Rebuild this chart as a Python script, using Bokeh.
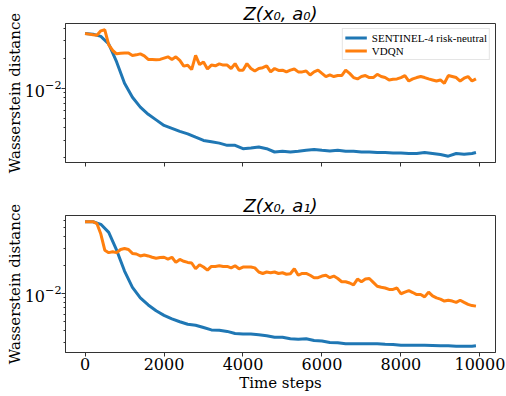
import math
from bokeh.plotting import figure
from bokeh.layouts import column
from bokeh.models import Range1d, FixedTicker, LogTickFormatter
from bokeh.embed import file_html
from bokeh.resources import INLINE

# ---------------- data ----------------
steps_fine = list(range(0, 10000, 100))
steps_coarse = list(range(0, 10000, 200)) + [9900]

sentinel_a0 = [0.0356, 0.0351, 0.0333, 0.0279, 0.0184, 0.0112, 0.00809, 0.00644, 0.00545, 0.00479,
               0.00421, 0.00393, 0.00367, 0.00346, 0.0032, 0.00297, 0.00288, 0.00279, 0.00265, 0.00265,
               0.00245, 0.00249, 0.00255, 0.00245, 0.00227, 0.00231, 0.00227, 0.00231, 0.00236, 0.0024,
               0.00236, 0.00233, 0.00236, 0.00231, 0.00231, 0.00227, 0.00227, 0.00224, 0.00224, 0.00222,
               0.00222, 0.00219, 0.00219, 0.00224, 0.00219, 0.00214, 0.00206, 0.00219, 0.00215, 0.00219,
               0.00224]

vdqn_a0 = [0.0356, 0.0351, 0.0346, 0.0342, 0.0379, 0.0388, 0.0273, 0.0240, 0.0222, 0.0225,
           0.0227, 0.0227, 0.0214, 0.0217, 0.0222, 0.0212, 0.0195, 0.0195, 0.0194, 0.0195,
           0.0201, 0.0207, 0.0195, 0.0207, 0.0191, 0.0167, 0.0170, 0.0154, 0.0214, 0.0173,
           0.0184, 0.0156, 0.0171, 0.0168, 0.0176, 0.0171, 0.0171, 0.0158, 0.0177, 0.0152,
           0.0152, 0.0177, 0.0158, 0.0149, 0.0158, 0.0161, 0.0168, 0.0146, 0.0158, 0.0151,
           0.0152, 0.0146, 0.0152, 0.0156, 0.0146, 0.0146, 0.0149, 0.0136, 0.0146, 0.0152,
           0.0141, 0.0131, 0.0136, 0.0131, 0.0134, 0.0134, 0.0152, 0.0141, 0.0128, 0.0124,
           0.0131, 0.0134, 0.0128, 0.0128, 0.0138, 0.0131, 0.0128, 0.0121, 0.0123, 0.0124,
           0.0128, 0.0134, 0.0118, 0.0124, 0.0128, 0.0131, 0.0128, 0.0124, 0.0121, 0.0118,
           0.0121, 0.0112, 0.0134, 0.0131, 0.0128, 0.0118, 0.0126, 0.0131, 0.0118, 0.0124]

sentinel_a1 = [0.0582, 0.0582, 0.0546, 0.0448, 0.0289, 0.0173, 0.0116, 0.00893, 0.00751, 0.00651,
               0.00582, 0.00533, 0.00497, 0.00467, 0.00456, 0.00431, 0.00407, 0.00403, 0.00392, 0.00373,
               0.00368, 0.00368, 0.00362, 0.00353, 0.0034, 0.0034, 0.00327, 0.00324, 0.00327, 0.00313,
               0.0031, 0.00299, 0.00296, 0.0029, 0.0029, 0.0029, 0.0029, 0.0029, 0.00286, 0.00284,
               0.00279, 0.00279, 0.00279, 0.00279, 0.00277, 0.00275, 0.00275, 0.00272, 0.00272, 0.00272,
               0.00275]

vdqn_a1 = [0.0582, 0.0582, 0.0582, 0.0556, 0.0430, 0.0289, 0.0272, 0.0278, 0.0272, 0.0294,
           0.0301, 0.0294, 0.0267, 0.0263, 0.0251, 0.0257, 0.0251, 0.0243, 0.0237, 0.0241,
           0.0243, 0.0232, 0.0243, 0.0214, 0.0230, 0.0220, 0.0214, 0.0211, 0.0183, 0.0202,
           0.0191, 0.0177, 0.0194, 0.0194, 0.0197, 0.0194, 0.0194, 0.0187, 0.0197, 0.0183,
           0.0191, 0.0191, 0.0191, 0.0187, 0.0169, 0.0163, 0.0169, 0.0166, 0.0169, 0.0163,
           0.0166, 0.0160, 0.0162, 0.0183, 0.0156, 0.0163, 0.0163, 0.0156, 0.0147, 0.0147,
           0.0153, 0.0156, 0.0147, 0.0153, 0.0144, 0.0133, 0.0133, 0.0129, 0.0123, 0.0142,
           0.0133, 0.0142, 0.0144, 0.0131, 0.0119, 0.0116, 0.0114, 0.0110, 0.0110, 0.0114,
           0.0099, 0.0103, 0.0107, 0.0102, 0.0097, 0.0097, 0.00916, 0.0103, 0.00938, 0.00893,
           0.00867, 0.00827, 0.00845, 0.00827, 0.0080, 0.00845, 0.0080, 0.00762, 0.0074, 0.0073]

x_ticks = [0, 2000, 4000, 6000, 8000, 10000]
y_major = [0.01]
titles = ["Z(x\u2080, a\u2080)", "Z(x\u2080, a\u2081)"]
series_names = ["SENTINEL-4 risk-neutral", "VDQN"]
colors = ["#1f77b4", "#ff7f0e"]

y_minor = [m * 10.0 ** e for e in (-4, -3, -2, -1) for m in range(2, 10)]

SERIF = "DejaVu Serif"
AX_COL = "#333333"


def log_range(*series):
    vals = [v for s in series for v in s]
    lo, hi = math.log10(min(vals)), math.log10(max(vals))
    pad = 0.05 * (hi - lo)
    return Range1d(10 ** (lo - pad), 10 ** (hi + pad))


def x_range():
    lo, hi = min(steps_fine), max(steps_fine)
    pad = 0.05 * (hi - lo)
    return Range1d(lo - pad, hi + pad)


def make(title, blue, orange, height, bottom_border, show_x_labels, legend):
    p = figure(width=506, height=height, y_axis_type="log",
               x_range=x_range(), y_range=log_range(blue, orange),
               output_backend="svg", toolbar_location=None,
               min_border_left=65, min_border_right=11,
               min_border_top=21, min_border_bottom=bottom_border)
    p.grid.visible = False
    p.outline_line_color = AX_COL
    p.outline_line_width = 1
    p.background_fill_color = "white"
    p.border_fill_color = "white"

    p.title.text = title
    p.title.align = "center"
    p.title.standoff = 0
    p.title.text_font = "DejaVu Sans"
    p.title.text_font_style = "italic"
    p.title.text_font_size = "18px"
    p.title.text_color = "black"

    kw0 = dict(legend_label=series_names[0]) if legend else {}
    kw1 = dict(legend_label=series_names[1]) if legend else {}
    p.line(steps_coarse, blue, line_color=colors[0], line_width=3, **kw0)
    p.line(steps_fine, orange, line_color=colors[1], line_width=3, **kw1)

    for ax in (p.xaxis[0], p.yaxis[0]):
        ax.axis_line_color = AX_COL
        ax.major_tick_line_color = AX_COL
        ax.minor_tick_line_color = AX_COL
        ax.major_tick_in = 0
        ax.major_tick_out = 4
        ax.minor_tick_in = 0
        ax.minor_tick_out = 2
        ax.major_label_text_font = SERIF
        ax.major_label_text_font_size = "16px"
        ax.major_label_text_color = "black"
        ax.major_label_text_line_height = 1.0
        ax.axis_label_text_font = SERIF
        ax.axis_label_text_font_size = "15px"
        ax.axis_label_text_font_style = "normal"
        ax.axis_label_text_color = "black"
        ax.axis_label_text_line_height = 1.0
        ax.major_label_standoff = 1

    p.xaxis.ticker = FixedTicker(ticks=x_ticks)
    p.yaxis.ticker = FixedTicker(ticks=y_major, minor_ticks=y_minor)
    p.yaxis.formatter = LogTickFormatter()
    p.yaxis.axis_label = "Wasserstein distance"
    p.yaxis.major_label_standoff = 0
    p.yaxis.axis_label_standoff = -2
    if show_x_labels:
        p.xaxis.axis_label = "Time steps"
        p.xaxis.axis_label_standoff = 1
    else:
        p.xaxis.major_label_text_color = None

    if legend:
        lg = p.legend[0]
        lg.location = "top_right"
        lg.margin = 5
        lg.padding = 2
        lg.spacing = 0
        lg.glyph_width = 22
        lg.glyph_height = 13
        lg.label_height = 13
        lg.label_standoff = 5
        lg.label_text_font = "Liberation Serif"
        lg.label_text_font_size = "11px"
        lg.label_text_color = "black"
        lg.border_line_color = "#cccccc"
        lg.border_line_width = 1
        lg.background_fill_alpha = 0.8
    return p


p1 = make(titles[0], sentinel_a0, vdqn_a0, 192, 30, False, True)
p2 = make(titles[1], sentinel_a1, vdqn_a1, 202, 40, True, False)

layout = column(p1, p2, spacing=0)
open("out.html", "w").write(file_html(layout, INLINE))
